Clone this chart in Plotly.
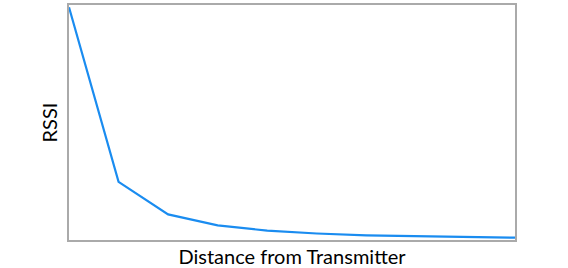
import plotly.graph_objects as go

distance = [1, 2, 3, 4, 5, 6, 7, 8, 9, 10]
rssi = [1.0, 0.25, 0.11, 0.063, 0.04, 0.028, 0.02, 0.016, 0.012, 0.01]

fig = go.Figure()
fig.add_trace(go.Scatter(x=distance, y=rssi, mode="lines",
                         line=dict(color="#1a8cf0", width=2.2),
                         hoverinfo="skip"))

axis_common = dict(showgrid=False, zeroline=False, showticklabels=False,
                   ticks="", showline=True, mirror=True,
                   linecolor="#aaaaaa", linewidth=2)

fig.update_layout(
    width=568, height=268,
    margin=dict(l=69, r=53, t=3, b=28),
    paper_bgcolor="white", plot_bgcolor="white",
    showlegend=False,
    font=dict(family="Lato, sans-serif", size=17, color="#000000"),
    xaxis=dict(range=[1, 10], title=dict(text="Distance from Transmitter", standoff=10),
               **axis_common),
    yaxis=dict(range=[0.0, 1.01], title=dict(text="RSSI", standoff=4),
               **axis_common),
)

fig.write_html("out.html")
